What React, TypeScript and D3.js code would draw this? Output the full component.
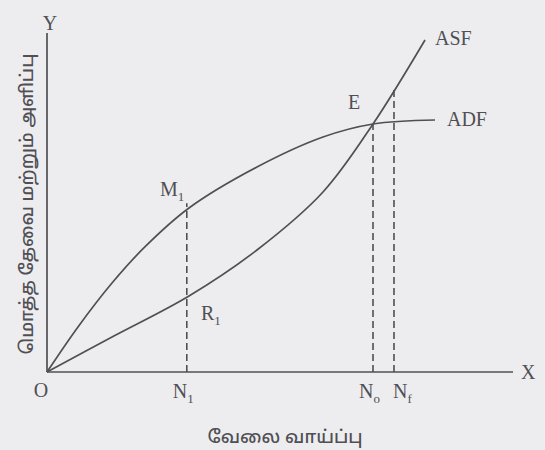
import React from "react";
import * as d3 from "d3";

// aggregate demand / supply functions (0..100 both ways)
const adfX = [0, 6.65, 13.95, 21.0, 30.47, 45.06, 59.23, 69.96, 83.26];
const adfY = [0, 13.3, 26.25, 36.9, 48.38, 60.47, 69.32, 73.16, 74.34];

const asfX = [0, 13.95, 30.47, 45.06, 59.23, 69.96, 81.12];
const asfY = [0, 10.32, 22.42, 35.99, 53.1, 73.16, 97.94];

// dashed drop lines: name, x, height
const dropNames = ["1", "o", "f"];
const dropX = [30.0, 69.96, 74.46];
const dropTop = [49.8, 73.16, 83.2];

const yTitle = "மொத்த தேவை மற்றும் அளிப்பு";
const xTitle = "வேலை வாய்ப்பு";

const W = 545;
const H = 450;
const ink = "#505054";
const serif = "'Liberation Serif', 'DejaVu Serif', serif";
const tamil = "'Noto Sans Tamil', 'Noto Sans', 'Lato', sans-serif";

export default function App() {
  const x = d3.scaleLinear().domain([0, 100]).range([47, 513]);
  const y = d3.scaleLinear().domain([0, 100]).range([372, 33]);

  const line = d3
    .line<[number, number]>()
    .x((d) => x(d[0]))
    .y((d) => y(d[1]))
    .curve(d3.curveCatmullRom.alpha(0.5));

  const adf = adfX.map((v, i) => [v, adfY[i]] as [number, number]);
  const asf = asfX.map((v, i) => [v, asfY[i]] as [number, number]);
  const adfEnd = adf[adf.length - 1];
  const asfEnd = asf[asf.length - 1];
  const eq = adf[7];
  const m1 = adf[4];
  const r1 = asf[2];

  return (
    <svg
      width={W}
      height={H}
      style={{ position: "absolute", left: 0, top: 0, background: "#ededf0" }}
    >
      <rect width={W} height={H} fill="#ededf0" />
      <g stroke={ink} strokeWidth={1.7} fill="none">
        <line x1={x(0)} y1={y(0)} x2={x(100)} y2={y(0)} />
        <line x1={x(0)} y1={y(0)} x2={x(0)} y2={y(100)} />
        <path d={line(adf) || ""} />
        <path d={line(asf) || ""} />
        {dropX.map((v, i) => (
          <line
            key={i}
            x1={x(v)}
            x2={x(v)}
            y1={y(0)}
            y2={y(dropTop[i])}
            strokeDasharray="7,4"
            strokeWidth={1.6}
          />
        ))}
      </g>
      <g fill={ink} fontFamily={serif} fontSize={20}>
        <text x={x(0) + 3} y={y(100) - 3} textAnchor="middle">Y</text>
        <text x={x(100) + 8} y={y(0) + 7}>X</text>
        <text x={x(0) - 6} y={y(0) + 25} textAnchor="middle">O</text>
        <text x={x(asfEnd[0]) + 10} y={y(asfEnd[1]) + 5}>ASF</text>
        <text x={x(adfEnd[0]) + 12} y={y(adfEnd[1]) + 6}>ADF</text>
        <text x={x(eq[0]) - 25} y={y(eq[1]) - 15}>E</text>
        <text x={x(m1[0]) - 29} y={y(m1[1]) - 12}>
          M<tspan fontSize={13} dy={5}>1</tspan>
        </text>
        <text x={x(r1[0]) + 12} y={y(r1[1]) + 24}>
          R<tspan fontSize={13} dy={5}>1</tspan>
        </text>
        {dropX.map((v, i) => (
          <text key={i} x={x(v) - (i === 2 ? 1 : 14)} y={y(0) + 26}>
            N<tspan fontSize={13} dy={5}>{dropNames[i]}</tspan>
          </text>
        ))}
      </g>
      <text
        x={285}
        y={443}
        textAnchor="middle"
        fontFamily={tamil}
        fontSize={18}
        fontWeight={500}
        fill={ink}
      >
        {xTitle}
      </text>
      <text
        transform="translate(33,204) rotate(-90)"
        textAnchor="middle"
        fontFamily={tamil}
        fontSize={18}
        fontWeight={500}
        fill={ink}
      >
        {yTitle}
      </text>
    </svg>
  );
}
